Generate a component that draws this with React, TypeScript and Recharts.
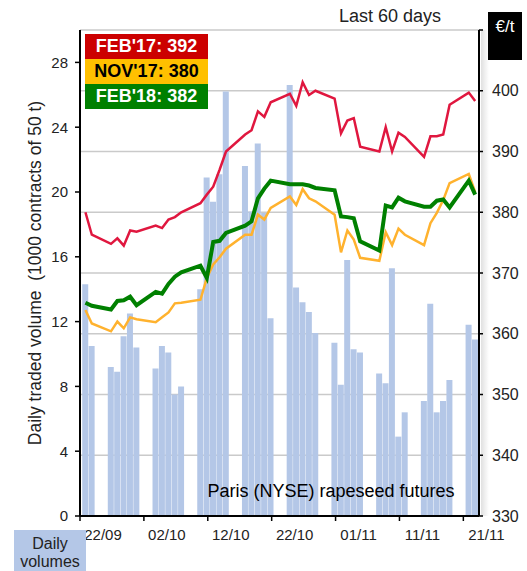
import { ComposedChart, Bar, Line, XAxis, YAxis, CartesianGrid } from 'recharts';

const FONT = '"Liberation Sans", Arial, sans-serif';

// calendar day index counted from 22/09 (weekends have no data)
const days = [0, 1, 4, 5, 6, 7, 8, 11, 12, 13, 14, 15, 18, 19, 20, 21, 22, 25, 26, 27, 28, 29, 32, 33, 34, 35, 36, 39, 40, 41, 42, 43, 46, 47, 48, 49, 50, 53, 54, 55, 56, 57, 60, 61];

// daily traded volume, 1000 contracts
const volumes = [14.3, 10.5, 9.2, 8.9, 11.1, 12.5, 10.4, 9.1, 10.5, 10.1, 7.5, 8.0, 14.0, 20.9, 19.4, 21.1, 26.2, 21.6, 18.8, 23.0, 18.7, 12.2, 26.6, 14.1, 13.2, 12.6, 11.3, 10.7, 8.1, 15.8, 10.3, 10.1, 8.8, 8.2, 15.3, 4.9, 6.4, 7.1, 13.1, 6.4, 7.1, 8.4, 11.8, 10.9];

// settlement prices, €/t
const feb17 = [380.0, 376.3, 374.8, 375.7, 374.5, 377.0, 376.8, 377.8, 377.4, 378.8, 379.2, 380.0, 381.5, 382.9, 384.2, 387.0, 390.0, 392.8, 393.5, 396.6, 395.7, 398.1, 399.5, 397.5, 401.4, 399.3, 400.0, 398.7, 393.0, 395.1, 395.5, 390.8, 390.0, 394.0, 390.0, 393.1, 392.4, 389.1, 392.5, 392.5, 392.8, 397.7, 399.7, 398.3];
const nov17 = [363.9, 361.7, 360.4, 362.0, 360.9, 362.7, 362.4, 361.9, 362.7, 363.5, 365.0, 365.1, 365.6, 369.2, 371.4, 372.6, 374.0, 376.3, 376.3, 379.6, 378.8, 380.7, 382.6, 381.2, 383.8, 382.3, 381.8, 379.6, 373.4, 377.0, 375.5, 372.5, 372.0, 376.7, 374.6, 377.3, 376.3, 374.6, 378.2, 379.9, 382.0, 384.8, 386.3, 383.3];
const feb18 = [365.1, 364.6, 364.0, 365.4, 365.5, 366.1, 364.7, 366.9, 366.6, 368.2, 369.4, 370.1, 371.2, 369.2, 375.1, 375.3, 376.6, 377.8, 378.5, 382.3, 383.9, 385.2, 384.6, 384.6, 384.6, 384.4, 384.0, 383.6, 379.3, 379.2, 379.0, 375.2, 373.7, 381.1, 380.8, 382.4, 381.8, 380.9, 380.9, 381.9, 382.1, 380.8, 385.2, 382.9];

const tickDays = [0, 10, 20, 30, 40, 50, 60];
const tickLabels = ['22/09', '02/10', '12/10', '22/10', '01/11', '11/11', '21/11'];
const volumeTicks = [0, 4, 8, 12, 16, 20, 24, 28];
const priceTicks = [330, 340, 350, 360, 370, 380, 390, 400, 410];

const legendLabels = ["FEB'17: 392", "NOV'17: 380", "FEB'18: 382"];

const chartData = days.map((d, i) => ({
    x: d + 0.85,
    vol: volumes[i],
    feb17: feb17[i],
    nov17: nov17[i],
    feb18: feb18[i],
}));

const TICK_STYLE = { fontSize: 15, fill: '#222', fontFamily: FONT };
const LEGEND_COLORS = [
    { bg: '#cc0000', fg: '#fff' },
    { bg: '#ffc000', fg: '#000' },
    { bg: '#008000', fg: '#fff' },
];

// date labels sit to the right of their tick mark, like the source chart
function DateTick({ x, y, payload }: { x: number; y: number; payload: { value: number } }) {
    const label = tickLabels[tickDays.indexOf(payload.value)] ?? '';
    return (
        <text x={x + 23} y={y} dy="0.71em" textAnchor="middle" fontSize={15} fill="#222" fontFamily={FONT}>
            {label}
        </text>
    );
}

export default function App() {
    return (
        <div style={{ position: 'absolute', left: 0, top: 0, width: 527, height: 571, background: '#fff', fontFamily: FONT }}>
            <ComposedChart width={527} height={571} data={chartData} margin={{ top: 30, right: 0, bottom: 25, left: 0 }}>
                <CartesianGrid yAxisId="price" vertical={false} stroke="#cacaca" strokeWidth={1.3} />
                <XAxis
                    type="number"
                    dataKey="x"
                    domain={[0, 62.45]}
                    ticks={tickDays}
                    interval={0}
                    allowDataOverflow
                    height={30}
                    tick={(props: any) => <DateTick {...props} />}
                    tickSize={5}
                    tickMargin={8}
                    axisLine={{ stroke: '#000', strokeWidth: 2 }}
                    tickLine={{ stroke: '#000', strokeWidth: 1.5 }}
                />
                <YAxis
                    yAxisId="vol"
                    domain={[0, 30]}
                    ticks={volumeTicks}
                    interval={0}
                    width={80}
                    tick={TICK_STYLE}
                    tickSize={5}
                    tickMargin={7}
                    axisLine={{ stroke: '#000', strokeWidth: 2 }}
                    tickLine={{ stroke: '#000', strokeWidth: 1.5 }}
                />
                <YAxis
                    yAxisId="price"
                    orientation="right"
                    domain={[330, 410]}
                    ticks={priceTicks}
                    interval={0}
                    width={48}
                    tickFormatter={(v: number) => (v === 410 ? '' : String(v))}
                    tick={{ ...TICK_STYLE, fontSize: 16 }}
                    tickSize={4}
                    tickMargin={9}
                    axisLine={{ stroke: '#000', strokeWidth: 2 }}
                    tickLine={{ stroke: '#000', strokeWidth: 1.5 }}
                />
                <Bar yAxisId="vol" dataKey="vol" fill="#b4c7e7" barSize={6} isAnimationActive={false} />
                <Line yAxisId="price" type="linear" dataKey="feb17" stroke="#e0173f" strokeWidth={2.5} dot={false} isAnimationActive={false} />
                <Line yAxisId="price" type="linear" dataKey="nov17" stroke="#ffb22e" strokeWidth={2.5} dot={false} isAnimationActive={false} />
                <Line yAxisId="price" type="linear" dataKey="feb18" stroke="#008000" strokeWidth={4} dot={false} isAnimationActive={false} />
            </ComposedChart>

            <svg width={527} height={571} style={{ position: 'absolute', left: 0, top: 0, pointerEvents: 'none' }}>
                <defs>
                    <linearGradient id="axisShadow" x1="0" y1="0" x2="1" y2="0">
                        <stop offset="0%" stopColor="#000" stopOpacity={0.12} />
                        <stop offset="100%" stopColor="#000" stopOpacity={0} />
                    </linearGradient>
                </defs>
                <rect x={481} y={30} width={8} height={486} fill="url(#axisShadow)" />
                <text x={390} y={22} textAnchor="middle" fontSize={18} fill="#222" fontFamily={FONT}>Last 60 days</text>
                <rect x={488} y={12} width={34} height={48} fill="#000" />
                <text x={505} y={32} textAnchor="middle" fontSize={17} fill="#fff" fontFamily={FONT}>€/t</text>
                <text
                    x={35}
                    y={273}
                    transform="rotate(-90 35 273)"
                    textAnchor="middle"
                    dominantBaseline="central"
                    fontSize={17.5}
                    fill="#222"
                    fontFamily={FONT}
                    style={{ whiteSpace: 'pre' }}
                >
                    {'Daily traded volume  (1000 contracts of 50 t)'}
                </text>
                <text x={331} y={497} textAnchor="middle" fontSize={18} fill="#000" fontFamily={FONT}>Paris (NYSE) rapeseed futures</text>
                <rect x={14} y={530} width={72} height={41} fill="#b4c7e7" />
                <text x={50} y={549} textAnchor="middle" fontSize={16} fill="#222" fontFamily={FONT}>Daily</text>
                <text x={50} y={567} textAnchor="middle" fontSize={16} fill="#222" fontFamily={FONT}>volumes</text>
            </svg>

            <div style={{ position: 'absolute', left: 85, top: 34, width: 123 }}>
                {legendLabels.map((label, i) => (
                    <div
                        key={label}
                        style={{
                            height: 25,
                            lineHeight: '25px',
                            background: LEGEND_COLORS[i].bg,
                            color: LEGEND_COLORS[i].fg,
                            fontWeight: 'bold',
                            fontSize: 18,
                            textAlign: 'center',
                            whiteSpace: 'nowrap',
                        }}
                    >
                        {label}
                    </div>
                ))}
            </div>
        </div>
    );
}
